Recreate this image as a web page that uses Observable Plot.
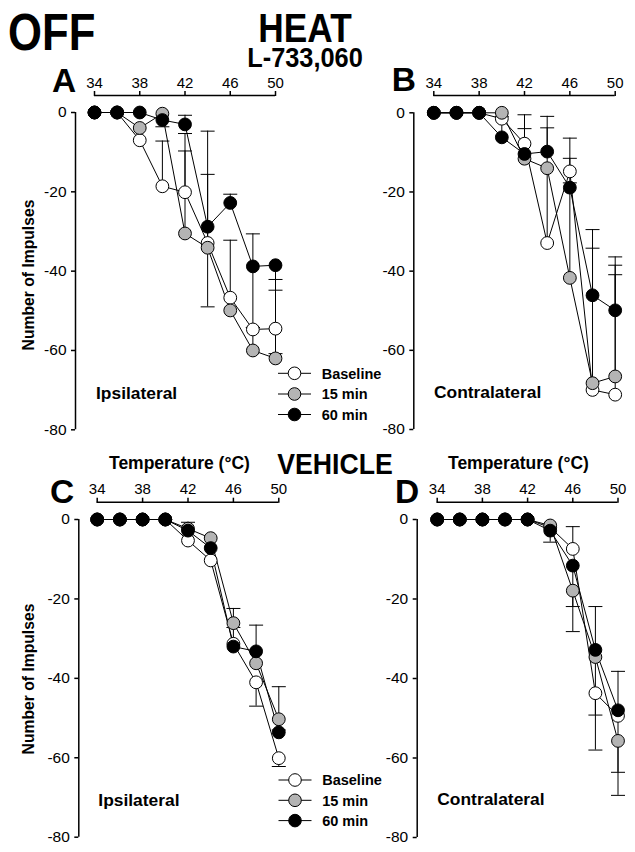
<!DOCTYPE html>
<html><head><meta charset="utf-8">
<script src="https://cdn.jsdelivr.net/npm/d3@7"></script>
<script src="https://cdn.jsdelivr.net/npm/@observablehq/plot@0.6"></script>
<style>
html,body{margin:0;padding:0;background:#fff;}
#page{position:relative;width:635px;height:852px;overflow:hidden;font-family:"Liberation Sans",Arial,Helvetica,sans-serif;}
#page svg{position:absolute;}
</style></head><body><div id="page"></div>
<script>
// ---- data ----
const temps = [34, 36, 38, 40, 42, 44, 46, 48, 50];
const xTicks = [34, 38, 42, 46, 50];
const yTicks = [0, -20, -40, -60, -80];
const seriesNames = ["Baseline", "15 min", "60 min"];

// Panel A: L-733,060 ipsilateral
const A_base = [0, 0, -7.0, -18.6, -20.1, -32.9, -46.7, -54.7, -54.5];
const A_15   = [0, 0, -3.9, -0.3, -30.5, -34.1, -49.9, -60.0, -62.0];
const A_60   = [0, 0, 0, -1.9, -3.0, -28.8, -22.8, -38.8, -38.5];
const A_err  = [[40, -18.6, -7.2], [40, -1.9, -3.6], [42, -3.0, -0.7], [42, -20.1, -5.3], [42, -30.5, -9.7],
                [44, -28.8, -4.7], [44, -28.8, -49.0], [44, -32.9, -15.6], [46, -22.8, -20.6], [46, -46.7, -32.2],
                [48, -38.8, -30.6], [48, -38.8, -54.2], [48, -60.0, -54.2], [50, -38.5, -44.8], [50, -54.5, -42.1], [50, -54.5, -60.8]];

// Panel B: L-733,060 contralateral
const B_base = [0, 0, 0, -1.5, -7.8, -32.9, -14.8, -70.0, -71.2];
const B_15   = [0, 0, 0, 0, -11.6, -14.0, -41.7, -68.3, -66.6];
const B_60   = [0, 0, 0, -6.2, -10.4, -9.8, -18.9, -46.1, -49.9];
const B_err  = [[40, -6.2, -1.0], [42, -10.4, -0.5], [42, -11.6, -4.0], [44, -9.8, -0.9], [44, -32.9, -3.8],
                [46, -14.8, -6.4], [46, -18.9, -11.5], [46, -41.7, -17.7], [48, -46.1, -34.2], [48, -68.3, -29.5],
                [50, -49.9, -40.9], [50, -66.6, -38.5], [50, -71.2, -36.4]];

// Panel C: vehicle ipsilateral
const C_base = [0, 0, 0, 0, -5.3, -10.3, -31.3, -41.0, -60.1];
const C_15   = [0, 0, 0, 0, -2.3, -4.7, -26.1, -36.2, -50.3];
const C_60   = [0, 0, 0, 0, -2.8, -7.2, -32.0, -33.2, -53.6];
const C_err  = [[42, -2.8, -0.7], [46, -26.1, -22.4], [46, -32.0, -27.2], [48, -33.2, -26.6], [48, -41.0, -47.0],
                [50, -50.3, -42.1], [50, -50.3, -53.0], [50, -60.1, -62.2]];

// Panel D: vehicle contralateral
const D_base = [0, 0, 0, 0, 0, -2.0, -7.4, -43.7, -49.4];
const D_15   = [0, 0, 0, 0, 0, -1.5, -17.9, -34.6, -55.7];
const D_60   = [0, 0, 0, 0, 0, -2.8, -11.6, -32.8, -48.0];
const D_err  = [[44, -2.8, -5.7], [46, -7.4, -1.8], [46, -17.9, -28.2], [46, -11.6, -21.9], [48, -32.8, -21.9],
                [48, -43.7, -58.0], [48, -34.6, -49.2], [50, -48.0, -38.2], [50, -49.4, -63.6], [50, -55.7, -69.4]];

// ---- styling ----
const FONT = '"Liberation Sans", Arial, Helvetica, sans-serif';
const fills = {"Baseline": "#ffffff", "15 min": "#b4b4b4", "60 min": "#000000"};
const capSymbol = {draw(ctx, size) { const r = Math.sqrt(size / Math.PI); ctx.moveTo(-r, 0); ctx.lineTo(r, 0); }};
const page = document.getElementById("page");

function makePanel(series, err, c) {
  const rows = [];
  series.forEach((vals, si) => vals.forEach((v, i) => rows.push({s: seriesNames[si], t: temps[i], v})));
  const errRows = err.map(([t, from, to]) => ({t, from, to}));
  const marks = [
    Plot.axisX(xTicks, {anchor: "top", tickSize: 5, tickPadding: 3, fontSize: 15, strokeWidth: 1.5, label: null, tickFormat: d => String(d)}),
    Plot.axisY(yTicks, {anchor: "left", tickSize: 4, tickPadding: 5, fontSize: 15.5, strokeWidth: 1.5, label: null, tickFormat: d => String(d)}),
    Plot.ruleY([yTicks[0]], {x1: xTicks[0], x2: xTicks[xTicks.length - 1], dy: -c.it, stroke: "black", strokeWidth: 1.5}),
    Plot.ruleX([xTicks[0]], {y1: yTicks[0], y2: yTicks[yTicks.length - 1], dx: -c.il, stroke: "black", strokeWidth: 1.5}),
    Plot.ruleX(errRows, {x: "t", y1: "from", y2: "to", stroke: "black", strokeWidth: 1}),
    Plot.dot(errRows, {x: "t", y: "to", symbol: capSymbol, r: 7, stroke: "black", fill: "none", strokeWidth: 1})
  ];
  seriesNames.forEach(s => marks.push(Plot.line(rows, {filter: d => d.s === s, x: "t", y: "v", stroke: "black", strokeWidth: 1})));
  seriesNames.forEach(s => marks.push(Plot.dot(rows, {filter: d => d.s === s, x: "t", y: "v", r: 6.4, fill: fills[s], stroke: "black", strokeWidth: 1})));
  const svg = Plot.plot({
    width: c.w, height: c.h,
    marginTop: c.mt, marginBottom: c.mb, marginLeft: c.ml, marginRight: c.mr,
    insetTop: c.it, insetLeft: c.il, insetRight: 0, insetBottom: 0,
    x: {domain: [34, 50]}, y: {domain: [-80, 0]},
    style: {fontFamily: FONT, color: "black", background: "transparent", overflow: "visible"},
    marks
  });
  svg.style.position = "absolute";
  svg.style.left = c.left + "px";
  svg.style.top = c.top + "px";
  page.appendChild(svg);
}

makePanel([A_base, A_15, A_60], A_err, {left: 0, top: 0, w: 300, h: 440, ml: 75, il: 19, mr: 25, mt: 95, it: 17, mb: 10.7});
makePanel([B_base, B_15, B_60], B_err, {left: 338, top: 0, w: 297, h: 440, ml: 75.3, il: 20, mr: 20.3, mt: 95, it: 17.3, mb: 11});
makePanel([C_base, C_15, C_60], C_err, {left: 0, top: 420, w: 300, h: 432, ml: 78.3, il: 18.4, mr: 21.7, mt: 81.7, it: 17.3, mb: 15.3});
makePanel([D_base, D_15, D_60], D_err, {left: 338, top: 420, w: 297, h: 432, ml: 78.7, il: 20, mr: 17.5, mt: 81.7, it: 17.3, mb: 15});

// ---- text overlay ----
const ns = "http://www.w3.org/2000/svg";
const ov = document.createElementNS(ns, "svg");
ov.setAttribute("width", 635); ov.setAttribute("height", 852);
ov.style.left = "0px"; ov.style.top = "0px"; ov.style.pointerEvents = "none";
ov.setAttribute("font-family", FONT);
page.appendChild(ov);
function txt(s, x, y, size, opts = {}) {
  const t = document.createElementNS(ns, "text");
  t.textContent = s;
  t.setAttribute("font-size", size);
  t.setAttribute("font-weight", opts.weight || "bold");
  t.setAttribute("text-anchor", opts.anchor || "start");
  t.setAttribute("fill", "black");
  const sx = opts.sx || 1, rot = opts.rot || 0;
  t.setAttribute("transform", `translate(${x},${y}) rotate(${rot}) scale(${sx},1)`);
  ov.appendChild(t);
}
txt("OFF", 8, 50, 52, {sx: 0.84});
txt("HEAT", 305, 42, 41, {anchor: "middle", sx: 0.86});
txt("L-733,060", 305, 67, 27, {anchor: "middle", sx: 0.94});
txt("VEHICLE", 335, 474, 29, {anchor: "middle", sx: 0.92});
txt("A", 52, 92, 33.5);
txt("B", 391.7, 90.7, 33.5);
txt("C", 50, 503.3, 33.5);
txt("D", 395, 503.3, 33.5);
txt("Temperature (°C)", 109, 469.3, 17.5);
txt("Temperature (°C)", 448, 469.3, 17.5);
txt("Number of Impulses", 34, 275, 15.7, {anchor: "middle", rot: -90});
txt("Number of Impulses", 34, 679, 15.7, {anchor: "middle", rot: -90});
txt("Ipsilateral", 96, 399, 17.4);
txt("Contralateral", 434, 397.7, 17.4);
txt("Ipsilateral", 98.3, 806, 17.4);
txt("Contralateral", 437.3, 805, 17.4);

function legend(x0, ys) {
  seriesNames.forEach((s, i) => {
    const y = ys[i];
    const ln = document.createElementNS(ns, "line");
    ln.setAttribute("x1", x0); ln.setAttribute("x2", x0 + 33);
    ln.setAttribute("y1", y); ln.setAttribute("y2", y);
    ln.setAttribute("stroke", "black"); ln.setAttribute("stroke-width", 1);
    ov.appendChild(ln);
    const c = document.createElementNS(ns, "circle");
    c.setAttribute("cx", x0 + 16.5); c.setAttribute("cy", y); c.setAttribute("r", 6.3);
    c.setAttribute("fill", fills[s]); c.setAttribute("stroke", "black");
    ov.appendChild(c);
    txt(s, x0 + 43.7, y + 5.2, 14.5);
  });
}
legend(278, [373.3, 394, 414.5]);
legend(278.5, [780, 800.3, 820.6]);
</script>
</body></html>
